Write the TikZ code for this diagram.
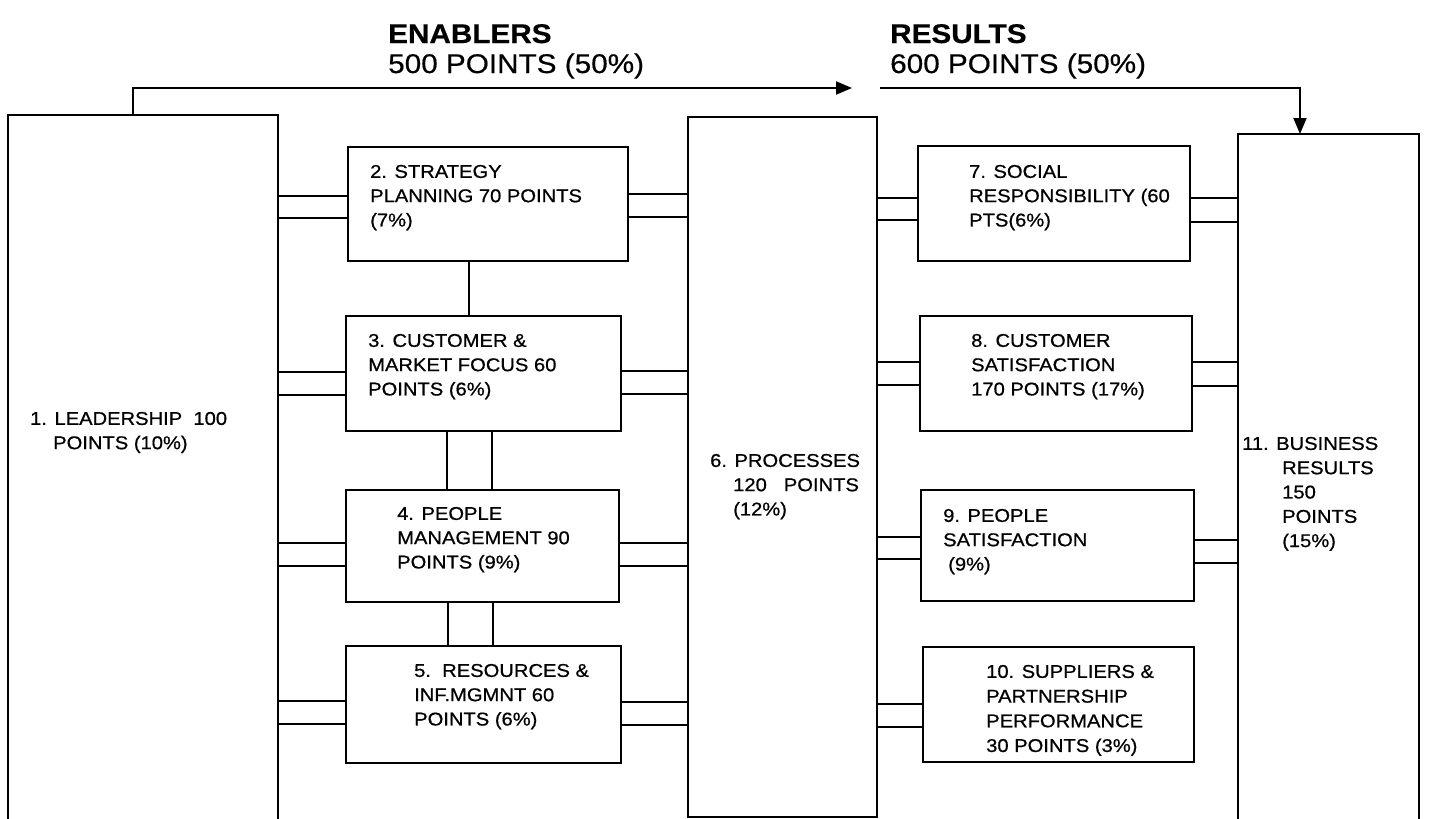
\documentclass[tikz,border=0pt]{standalone}
\usepackage{fontspec}
\setmainfont{Liberation Sans}[FakeStretch=1.09,FakeBold=0.7]
\newfontfamily\hdrfont{Liberation Sans}[FakeStretch=1.1,FakeBold=0.5]
\usetikzlibrary{arrows.meta}
\begin{document}
\begin{tikzpicture}[x=1pt,y=-1pt,
  box/.style={draw, line width=2pt, inner sep=0pt, outer sep=0pt, anchor=north west},
  openbox/.style={draw=none, inner sep=0pt, outer sep=0pt, anchor=north west},
  conn/.style={line width=2pt},
  txt/.style={anchor=north west, inner sep=0pt, align=left, font=\fontsize{18.5}{24.3}\selectfont},
  hdr/.style={anchor=base west, inner sep=0pt, font=\hdrfont\fontsize{27}{32}\selectfont},
  arr/.style={line width=2pt, -{Triangle[length=16pt,width=13pt]}}]

\path[use as bounding box] (0,0) rectangle (1430,819);

% headers
\node[hdr] (hE) at (388,43) {\bfseries ENABLERS};
\node[hdr] (hEp) at (388,73) {500 POINTS (50\%)};
\node[hdr] (hR) at (890,43) {\bfseries RESULTS};
\node[hdr] (hRp) at (890,73) {600 POINTS (50\%)};

% big boxes
\node[openbox, minimum width=270pt, minimum height=704pt] (L) at (8,115) {};
\draw[conn] (L.south west) -- (L.north west) -- (L.north east) -- (L.south east);
\node[box, minimum width=189pt, minimum height=700pt] (P) at (688,117) {};
\node[openbox, minimum width=181pt, minimum height=685pt] (B11) at (1238,134) {};
\draw[conn] (B11.south west) -- (B11.north west) -- (B11.north east) -- (B11.south east);

% enabler boxes
\node[box, minimum width=280pt, minimum height=114pt] (b2) at (348,147) {};
\node[box, minimum width=275pt, minimum height=115pt] (b3) at (346,316) {};
\node[box, minimum width=273pt, minimum height=112pt] (b4) at (346,490) {};
\node[box, minimum width=275pt, minimum height=117pt] (b5) at (346,646) {};
% result boxes
\node[box, minimum width=272pt, minimum height=115pt] (b7) at (918,146) {};
\node[box, minimum width=272pt, minimum height=115pt] (b8) at (920,316) {};
\node[box, minimum width=273pt, minimum height=111pt] (b9) at (921,490) {};
\node[box, minimum width=271pt, minimum height=115pt] (b10) at (923,647) {};

% arrows on top
\coordinate (enbEnd) at (852,88);
\coordinate (resStart) at (880,88);
\draw[arr] (L.north -| 133,0) |- (enbEnd);
\draw[arr] (resStart) -| (B11.north -| 1300,0);

% double connectors left column
\draw[conn] (L.east |- 0,196) -- (b2.west |- 0,196);
\draw[conn] (L.east |- 0,218) -- (b2.west |- 0,218);
\draw[conn] (b2.east |- 0,194) -- (P.west |- 0,194);
\draw[conn] (b2.east |- 0,217) -- (P.west |- 0,217);
\draw[conn] (L.east |- 0,372) -- (b3.west |- 0,372);
\draw[conn] (L.east |- 0,395) -- (b3.west |- 0,395);
\draw[conn] (b3.east |- 0,371) -- (P.west |- 0,371);
\draw[conn] (b3.east |- 0,394) -- (P.west |- 0,394);
\draw[conn] (L.east |- 0,543) -- (b4.west |- 0,543);
\draw[conn] (L.east |- 0,566) -- (b4.west |- 0,566);
\draw[conn] (b4.east |- 0,543) -- (P.west |- 0,543);
\draw[conn] (b4.east |- 0,566) -- (P.west |- 0,566);
\draw[conn] (L.east |- 0,701) -- (b5.west |- 0,701);
\draw[conn] (L.east |- 0,724) -- (b5.west |- 0,724);
\draw[conn] (b5.east |- 0,702) -- (P.west |- 0,702);
\draw[conn] (b5.east |- 0,725) -- (P.west |- 0,725);
% vertical connectors
\draw[conn] (b2.south -| 469,0) -- (b3.north -| 469,0);
\draw[conn] (b3.south -| 447,0) -- (b4.north -| 447,0);
\draw[conn] (b3.south -| 492,0) -- (b4.north -| 492,0);
\draw[conn] (b4.south -| 448,0) -- (b5.north -| 448,0);
\draw[conn] (b4.south -| 493,0) -- (b5.north -| 493,0);

% double connectors right column
\draw[conn] (P.east |- 0,198) -- (b7.west |- 0,198);
\draw[conn] (P.east |- 0,220) -- (b7.west |- 0,220);
\draw[conn] (b7.east |- 0,198) -- (B11.west |- 0,198);
\draw[conn] (b7.east |- 0,222) -- (B11.west |- 0,222);
\draw[conn] (P.east |- 0,362) -- (b8.west |- 0,362);
\draw[conn] (P.east |- 0,385) -- (b8.west |- 0,385);
\draw[conn] (b8.east |- 0,362) -- (B11.west |- 0,362);
\draw[conn] (b8.east |- 0,386) -- (B11.west |- 0,386);
\draw[conn] (P.east |- 0,537) -- (b9.west |- 0,537);
\draw[conn] (P.east |- 0,559) -- (b9.west |- 0,559);
\draw[conn] (b9.east |- 0,540) -- (B11.west |- 0,540);
\draw[conn] (b9.east |- 0,563) -- (B11.west |- 0,563);
\draw[conn] (P.east |- 0,704) -- (b10.west |- 0,704);
\draw[conn] (P.east |- 0,727) -- (b10.west |- 0,727);

% texts
\node[txt] (tL) at (30,411.75) {1. LEADERSHIP\ \ 100\\\hspace*{23pt}POINTS (10\%)};
\node[txt] (t2) at (370,164.75) {2. STRATEGY\\PLANNING 70 POINTS\\(7\%)};
\node[txt] (t3) at (368,333.75) {3. CUSTOMER \&\\MARKET FOCUS 60\\POINTS (6\%)};
\node[txt] (t4) at (397,506.75) {4. PEOPLE\\MANAGEMENT 90\\POINTS (9\%)};
\node[txt] (t5) at (414,663.75) {5.\ \ RESOURCES \&\\INF.MGMNT 60\\POINTS (6\%)};
\node[txt] (tP) at (710,453.75) {6. PROCESSES\\\hspace*{23pt}120\hspace{17pt}POINTS\\\hspace*{23pt}(12\%)};
\node[txt] (t7) at (969,164.75) {7. SOCIAL\\RESPONSIBILITY (60\\PTS(6\%)};
\node[txt] (t8) at (971,333.75) {8. CUSTOMER\\SATISFACTION\\170 POINTS (17\%)};
\node[txt] (t9) at (943,508.75) {9. PEOPLE\\SATISFACTION\\\hspace*{5pt}(9\%)};
\node[txt, font=\fontsize{18.5}{24.7}\selectfont] (t10) at (986,664.75) {10. SUPPLIERS \&\\PARTNERSHIP\\PERFORMANCE\\30 POINTS (3\%)};
\node[txt] (t11) at (1242,436.75) {11. BUSINESS\\\hspace*{40pt}RESULTS\\\hspace*{40pt}150\\\hspace*{40pt}POINTS\\\hspace*{40pt}(15\%)};
\end{tikzpicture}
\end{document}
